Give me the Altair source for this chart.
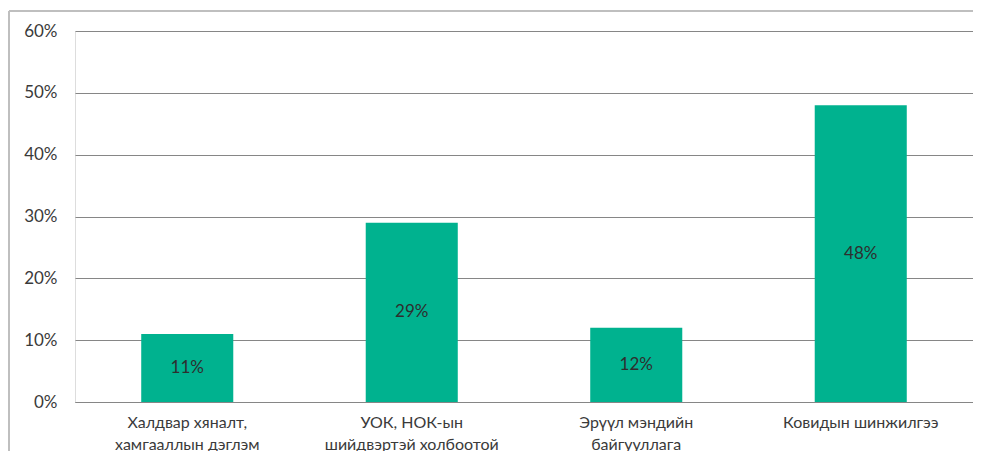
import altair as alt
import pandas as pd

categories = [
    "Халдвар хяналт,|хамгааллын дэглэм",
    "УОК, НОК-ын|шийдвэртэй холбоотой",
    "Эрүүл мэндийн|байгууллага",
    "Ковидын шинжилгээ",
]
values = [0.11, 0.29, 0.12, 0.48]
labels = ["11%", "29%", "12%", "48%"]

df = pd.DataFrame({"cat": categories, "val": values, "lab": labels})

FONT = "Lato"
TXT = "#3a3a3a"

base = alt.Chart(df)

x_enc = alt.X(
    "cat:N",
    sort=None,
    scale=alt.Scale(paddingInner=0.59, paddingOuter=0.295),
    axis=alt.Axis(
        title=None,
        labelAngle=0,
        labelExpr="split(datum.label, '|')",
        labelFont=FONT,
        labelFontSize=16,
        labelColor=TXT,
        labelLineHeight=22,
        labelPadding=12,
        ticks=False,
        domain=True,
        domainColor="#868686",
        domainWidth=1.2,
        labelLimit=300,
    ),
)

bars = base.mark_bar(color="#00B28F").encode(
    x=x_enc,
    y=alt.Y(
        "val:Q",
        scale=alt.Scale(domain=[0, 0.6]),
        axis=alt.Axis(
            title=None,
            format=".0%",
            values=[0, 0.1, 0.2, 0.3, 0.4, 0.5, 0.6],
            domain=False,
            ticks=False,
            grid=True,
            gridColor="#868686",
            gridWidth=1.2,
            labelFont=FONT,
            labelFontSize=17,
            labelColor=TXT,
            labelPadding=18,
        ),
    ),
)

text = base.transform_calculate(mid="datum.val / 2").mark_text(
    font=FONT, fontSize=17, color="#2e2e2e", baseline="middle"
).encode(
    x=alt.X("cat:N", sort=None),
    y=alt.Y("mid:Q"),
    text="lab:N",
)

border_left = base.mark_rule(color="#bfbfbf", strokeWidth=1.5).encode(
    x=alt.value(-66), x2=alt.value(-66), y=alt.value(-20), y2=alt.value(440)
)
border_top = base.mark_rule(color="#bfbfbf", strokeWidth=1.5).encode(
    x=alt.value(-66), x2=alt.value(898), y=alt.value(-20), y2=alt.value(-20)
)

chart = (
    alt.layer(bars, text, border_left, border_top)
    .properties(
        width=898,
        height=371,
        autosize=alt.AutoSizeParams(type="none"),
        padding={"left": 67, "top": 23, "right": 0, "bottom": 49},
    )
    .configure_view(stroke=None)
    .configure(background="white")
)

chart.save("out.html", embed_options={"renderer": "svg", "actions": False})
